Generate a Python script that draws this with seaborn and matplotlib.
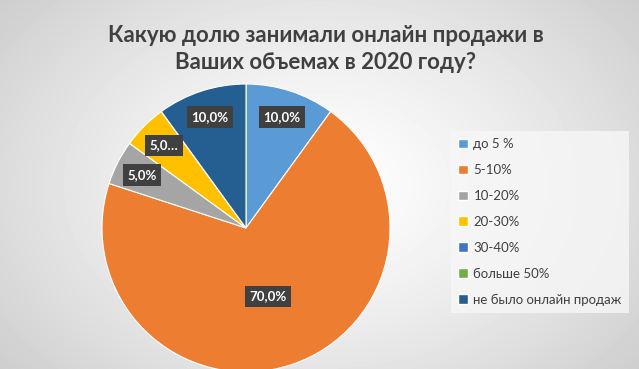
import numpy as np
import matplotlib
matplotlib.use("Agg")
import matplotlib.pyplot as plt
import seaborn as sns

# data
categories = ['до 5 %', '5-10%', '10-20%', '20-30%', '30-40%', 'больше 50%', 'не было онлайн продаж']
shares = [10.0, 70.0, 5.0, 5.0, 0.0, 0.0, 10.0]
label_text = ['10,0%', '70,0%', '5,0%', '5,0…', '', '', '10,0%']
colors = ['#5B9BD5', '#ED7D31', '#A5A5A5', '#FFC000', '#4472C4', '#70AD47', '#255E91']
title = 'Какую долю занимали онлайн продажи в\nВаших объемах в 2020 году?'

sns.set_theme(style='white')
plt.rcParams['font.family'] = ['Lato', 'DejaVu Sans']

fig = plt.figure(figsize=(6.39, 3.69), dpi=100)

# radial gradient background
bg = fig.add_axes([0, 0, 1, 1], zorder=-10)
yy, xx = np.mgrid[0:369, 0:639]
r = np.sqrt(((xx - 320) / 420.0) ** 2 + ((yy - 185) / 300.0) ** 2)
shade = 1.0 - 0.2 * np.clip(r, 0, 1) ** 1.3
bg.imshow(shade, cmap='gray', vmin=0, vmax=1, aspect='auto', interpolation='bilinear')
bg.axis('off')

ax = fig.add_axes([102 / 639, -3 / 369, 288 / 639, 288 / 369])
palette = sns.color_palette(colors)
wedges, _ = ax.pie(shares, colors=palette, startangle=90, counterclock=False,
                   wedgeprops=dict(edgecolor='white', linewidth=0.8))
ax.set_xlim(-1, 1)
ax.set_ylim(-1, 1)
ax.set_aspect('equal')
ax.axis('off')

# data labels in dark boxes
for w, txt in zip(wedges, label_text):
    if not txt:
        continue
    span = w.theta2 - w.theta1
    dist = 0.5 if span > 180 else 0.81
    mid = np.deg2rad((w.theta1 + w.theta2) / 2)
    ax.text(dist * np.cos(mid), dist * np.sin(mid), txt, ha='center', va='center',
            color='white', fontsize=9.5, fontweight='bold',
            bbox=dict(boxstyle='square,pad=0.35', facecolor='#404040', edgecolor='none'))

fig.text(0.51, 0.867, title, ha='center', va='center', fontsize=16, fontweight='bold',
         color='#404040', linespacing=1.4)

handles = [plt.Rectangle((0, 0), 1, 1, facecolor=c) for c in palette]
leg = fig.legend(handles, categories, loc='upper left', bbox_to_anchor=(451 / 639, 1 - 131 / 369),
                 frameon=True, fontsize=9.5, labelspacing=1.05, handlelength=0.75, handleheight=0.75,
                 handletextpad=0.4, borderpad=0.55, borderaxespad=0, fancybox=False)
leg.get_frame().set_facecolor('#f7f7f7')
leg.get_frame().set_edgecolor('none')
for t in leg.get_texts():
    t.set_color('#404040')

fig.savefig('out.png', dpi=100)
